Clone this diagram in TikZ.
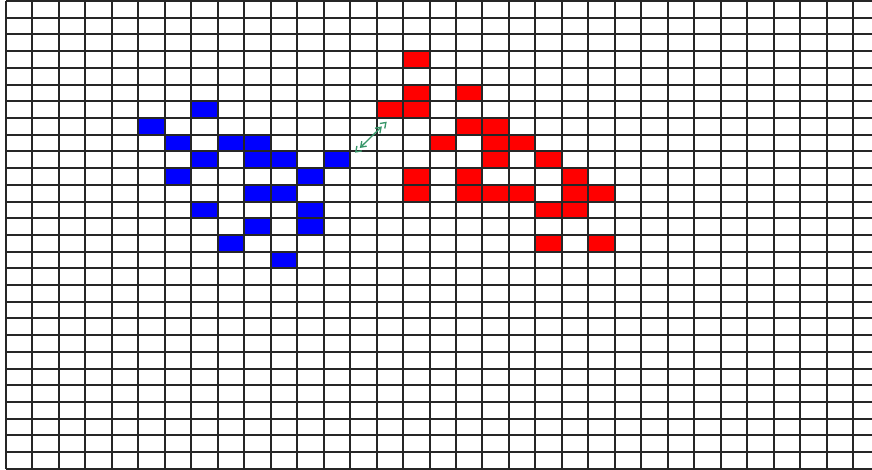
\documentclass[tikz,border=0pt]{standalone}
\usetikzlibrary{arrows.meta}
\definecolor{cellblue}{RGB}{0,0,255}
\definecolor{cellred}{RGB}{255,0,0}
\definecolor{linkgreen}{RGB}{55,150,105}
\tikzset{
  gridline/.style={line width=1.6pt, black!85},
  link/.style={linkgreen, line width=1.3pt, {Straight Barb[length=5pt,width=7pt]. Straight Barb[length=5pt,width=7pt]}-{Straight Barb[length=5pt,width=7pt]. Straight Barb[length=5pt,width=7pt]}}
}
\newcommand\cellx[1]{\pgfmathsetmacro\cxa{round(6+26.47*#1)}\pgfmathsetmacro\cxb{round(6+26.47*(#1+1))}}
\newcommand\celly[1]{\pgfmathsetmacro\cya{-round(1+16.71*#1)}\pgfmathsetmacro\cyb{-round(1+16.71*(#1+1))}}
\begin{document}
\begin{tikzpicture}[x=1pt,y=1pt]
\useasboundingbox (0,0) rectangle (872,-470);
\fill[white] (0,0) rectangle (872,-470);
\clip (0,0) rectangle (872,-470);
% blue cells (col/row)
\foreach \c/\r in {7/6, 5/7, 6/8, 8/8, 9/8, 7/9, 9/9, 10/9, 12/9, 6/10, 11/10, 9/11, 10/11, 7/12, 11/12, 9/13, 11/13, 8/14, 10/15}{
  \cellx{\c}\celly{\r}
  \fill[cellblue] (\cxa,\cya) rectangle (\cxb,\cyb);
}
% red cells
\foreach \c/\r in {15/3, 15/5, 17/5, 14/6, 15/6, 17/7, 18/7, 16/8, 18/8, 19/8, 18/9, 20/9, 15/10, 17/10, 21/10, 15/11, 17/11, 18/11, 19/11, 21/11, 22/11, 20/12, 21/12, 20/14, 22/14}{
  \cellx{\c}\celly{\r}
  \fill[cellred] (\cxa,\cya) rectangle (\cxb,\cyb);
}
% grid
\foreach \c in {0,...,33}{
  \pgfmathsetmacro\gx{round(6+26.47*\c)}
  \draw[gridline] (\gx,-1) -- (\gx,-469);
}
\foreach \r in {0,...,28}{
  \pgfmathsetmacro\gy{-round(1+16.71*\r)}
  \draw[gridline] (6,\gy) -- (880,\gy);
}
% connector between the two shapes
\coordinate (bluetip) at (355,-152.7);
\coordinate (redtip) at (386.7,-121.7);
\draw[link] (bluetip) -- (redtip);
\end{tikzpicture}
\end{document}
